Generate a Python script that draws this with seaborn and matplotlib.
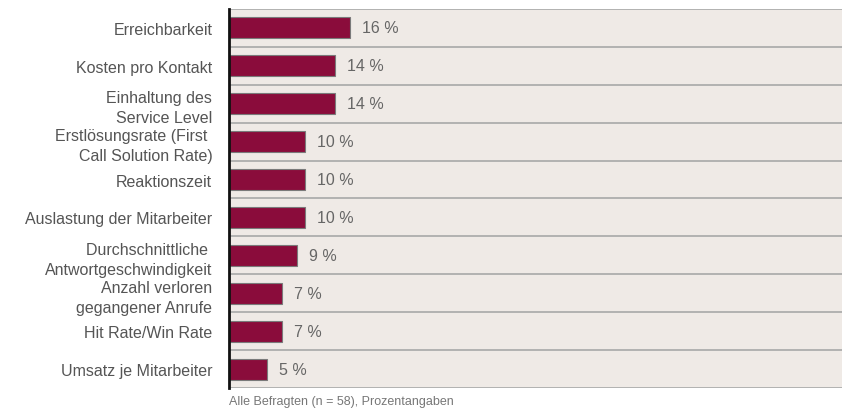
import numpy as np
import pandas as pd
import matplotlib
matplotlib.use('Agg')
import matplotlib.pyplot as plt
import seaborn as sns

# Daten
kategorien = ['Erreichbarkeit', 'Kosten pro Kontakt', 'Einhaltung des\nService Level',
              'Erstlösungsrate (First \nCall Solution Rate)', 'Reaktionszeit',
              'Auslastung der Mitarbeiter', 'Durchschnittliche \nAntwortgeschwindigkeit',
              'Anzahl verloren\ngegangener Anrufe', 'Hit Rate/Win Rate', 'Umsatz je Mitarbeiter']
werte = [16, 14, 14, 10, 10, 10, 9, 7, 7, 5]
fussnote = 'Alle Befragten (n = 58), Prozentangaben'

df = pd.DataFrame({'kategorie': kategorien, 'wert': werte})

sns.set_style('white')
plt.rcParams['font.family'] = ['Liberation Sans', 'DejaVu Sans']

fig = plt.figure(figsize=(8.42, 4.10), dpi=100)
ax = fig.add_axes([0.272, 0.051, 0.728, 0.925])
ax.set_facecolor('#EFEAE6')

sns.barplot(data=df, x='wert', y='kategorie', orient='h', color='#8A0C3B',
            saturation=1, width=0.55, edgecolor='#7a7a7a', linewidth=0.8, ax=ax)

ax.set_xlim(0, 81)
ax.set_ylim(len(kategorien) - 0.5, -0.5)
ax.set_xlabel('')
ax.set_ylabel('')
ax.set_xticks([])

# Trennlinien zwischen den Zeilen
for i in range(len(kategorien) + 1):
    ax.axhline(i - 0.5, color='#A8A8A8', lw=1.2, zorder=0.5)

for s in ['top', 'right', 'bottom']:
    ax.spines[s].set_visible(False)
ax.spines['left'].set_color('#111111')
ax.spines['left'].set_linewidth(2)

ax.tick_params(axis='y', length=0, pad=12, labelsize=11.5, labelcolor='#555555')
for lbl in ax.get_yticklabels():
    lbl.set_linespacing(1.4)

for i, v in enumerate(werte):
    ax.text(v + 1.6, i, f'{v} %', va='center', ha='left', fontsize=11.5, color='#666666')

fig.text(0.272, 0.005, fussnote, fontsize=9, color='#777777', ha='left', va='bottom')

fig.savefig('out.png', dpi=100)
